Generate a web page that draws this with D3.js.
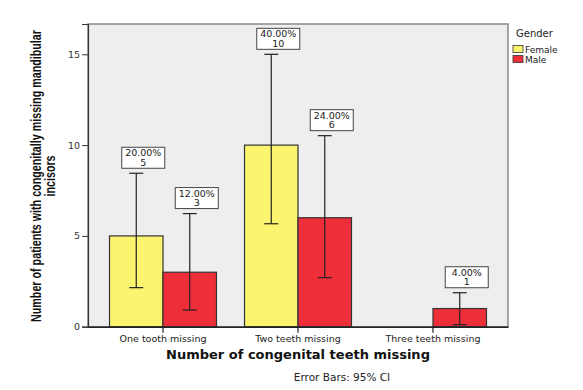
<!DOCTYPE html>
<html><head><meta charset="utf-8">
<script src="https://cdn.jsdelivr.net/npm/d3@7"></script>
<style>body{margin:0;background:#fff}svg{display:block}</style>
</head><body>
<svg id="c" width="583" height="390"></svg>
<script>
const categories = ["One tooth missing", "Two teeth missing", "Three teeth missing"];
const genders = ["Female", "Male"];
const femaleCounts = [5, 10, 0];
const maleCounts = [3, 6, 1];
const femalePct = ["20.00%", "40.00%", null];
const malePct = ["12.00%", "24.00%", "4.00%"];
const femaleLow = [2.15, 5.67, null];
const femaleHigh = [8.45, 15.0, null];
const maleLow = [0.92, 2.70, 0.11];
const maleHigh = [6.23, 10.52, 1.87];
const yTicks = [0, 5, 10, 15];
const yTitleLines = ["Number of patients with congenitally missing mandibular", "incisors"];
const colors = {Female: "#fbf46f", Male: "#ee2f3a"};

const svg = d3.select("#c");
const L = 88, R = 508, T = 24, B = 326.7;
const x0 = d3.scaleBand().domain(categories).range([L, R]).paddingInner(0).paddingOuter(0.0556);
const x1 = d3.scaleBand().domain(genders).range([0, x0.bandwidth()]).paddingInner(0).paddingOuter(0.262);
const y = d3.scaleLinear().domain([0, 16.67]).range([B, T]);

svg.append("rect").attr("x", L).attr("y", T).attr("width", R - L).attr("height", B - T)
  .attr("fill", "#eeeeee").attr("stroke", "#8a8a8a").attr("stroke-width", 1.5);

const rows = [];
categories.forEach((c, i) => {
  rows.push({cat: c, g: "Female", v: femaleCounts[i], pct: femalePct[i], lo: femaleLow[i], hi: femaleHigh[i]});
  rows.push({cat: c, g: "Male", v: maleCounts[i], pct: malePct[i], lo: maleLow[i], hi: maleHigh[i]});
});
const shown = rows.filter(d => d.v > 0);

svg.selectAll("rect.bar").data(shown).join("rect").attr("class", "bar")
  .attr("x", d => x0(d.cat) + x1(d.g)).attr("width", x1.bandwidth())
  .attr("y", d => y(d.v)).attr("height", d => y(0) - y(d.v))
  .attr("fill", d => colors[d.g]).attr("stroke", "#333").attr("stroke-width", 1.2);

const cx = d => x0(d.cat) + x1(d.g) + x1.bandwidth() / 2;
const eb = svg.append("g").attr("stroke", "#222").attr("stroke-width", 1.2);
shown.forEach(d => {
  const c = cx(d);
  eb.append("line").attr("x1", c).attr("x2", c).attr("y1", y(d.lo)).attr("y2", y(d.hi));
  eb.append("line").attr("x1", c - 7).attr("x2", c + 7).attr("y1", y(d.lo)).attr("y2", y(d.lo));
  eb.append("line").attr("x1", c - 7).attr("x2", c + 7).attr("y1", y(d.hi)).attr("y2", y(d.hi));
});

// labels
shown.forEach(d => {
  const c = cx(d) + 7;
  const bottom = y(d.hi) - 5;
  const g = svg.append("g");
  const w = 43, h = 21;
  g.append("rect").attr("x", c - w / 2).attr("y", bottom - h).attr("width", w).attr("height", h)
    .attr("fill", "#fff").attr("stroke", "#444").attr("stroke-width", 1);
  g.append("text").attr("x", c).attr("y", bottom - h + 9).attr("text-anchor", "middle")
    .attr("font-family", "DejaVu Sans, sans-serif").attr("font-size", 9.5).attr("fill", "#222").text(d.pct);
  g.append("text").attr("x", c).attr("y", bottom - 2.5).attr("text-anchor", "middle")
    .attr("font-family", "DejaVu Sans, sans-serif").attr("font-size", 9.5).attr("fill", "#222").text(d.v);
});

// axes
const ya = svg.append("g").attr("transform", `translate(${L},0)`)
  .call(d3.axisLeft(y).tickValues(yTicks).tickSize(6).tickPadding(2));
ya.select(".domain").attr("stroke", "#333").attr("stroke-width", 1.2);
ya.selectAll(".tick line").attr("stroke", "#333");
ya.selectAll("text").attr("font-family", "DejaVu Sans, sans-serif").attr("font-size", 9.5).attr("fill", "#333");

const xa = svg.append("g").attr("transform", `translate(0,${B})`)
  .call(d3.axisBottom(x0).tickSize(6).tickSizeOuter(0).tickPadding(3));
xa.select(".domain").attr("stroke", "#222").attr("stroke-width", 1.5);
xa.selectAll(".tick line").attr("stroke", "#222").attr("stroke-width", 1.2);
xa.selectAll("text").attr("font-family", "DejaVu Sans, sans-serif").attr("font-size", 9.5).attr("fill", "#222");

svg.append("text").attr("x", 298).attr("y", 359).attr("text-anchor", "middle")
  .attr("font-family", "DejaVu Sans, sans-serif").attr("font-weight", "bold").attr("font-size", 13)
  .attr("fill", "#111").text("Number of congenital teeth missing");

svg.append("text").attr("x", 342).attr("y", 381).attr("text-anchor", "middle")
  .attr("font-family", "DejaVu Sans, sans-serif").attr("font-size", 10.5)
  .attr("fill", "#222").text("Error Bars: 95% CI");

// y title: condensed by horizontal scaling so the first line spans ~292px
const ytg = svg.append("g");
const yt = ytg.append("text").attr("text-anchor", "middle")
  .attr("font-family", "Liberation Sans, sans-serif")
  .attr("font-weight", "bold").attr("font-size", 14).attr("fill", "#111");
yt.append("tspan").attr("x", 0).attr("dy", 0).text(yTitleLines[0]);
yt.append("tspan").attr("x", 0).attr("dy", 15).text(yTitleLines[1]);
const natural = yt.select("tspan").node().getComputedTextLength();
const k = 292 / natural;
ytg.attr("transform", `translate(40.5,176) rotate(-90) scale(${k},1)`);

// legend
svg.append("text").attr("x", 516).attr("y", 37).attr("font-family", "DejaVu Sans, sans-serif")
  .attr("font-size", 10).attr("fill", "#222").text("Gender");
genders.forEach((g, i) => {
  svg.append("rect").attr("x", 513).attr("y", 45.5 + i * 10).attr("width", 10).attr("height", 7)
    .attr("fill", colors[g]).attr("stroke", "#333").attr("stroke-width", 0.8);
  svg.append("text").attr("x", 525).attr("y", 52.5 + i * 10).attr("font-family", "DejaVu Sans, sans-serif")
    .attr("font-size", 9).attr("fill", "#222").text(g);
});
</script>
</body></html>
